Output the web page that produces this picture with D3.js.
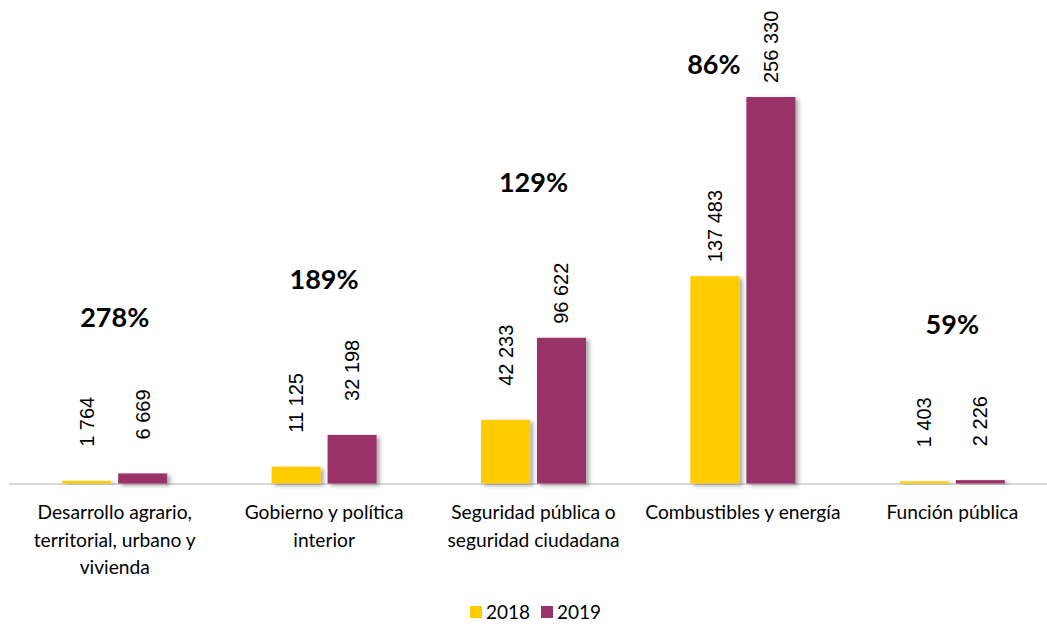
<!DOCTYPE html>
<html><head><meta charset="utf-8">
<script src="https://cdn.jsdelivr.net/npm/d3@7"></script>
<style>body{margin:0;background:#fff}svg{display:block}</style>
</head><body><div id="chart"></div>
<script>
const categories = ["Desarrollo agrario,\nterritorial, urbano y\nvivienda","Gobierno y política\ninterior","Seguridad pública o\nseguridad ciudadana","Combustibles y energía","Función pública"];
const years = ["2018","2019"];
const values2018 = [1764, 11125, 42233, 137483, 1403];
const values2019 = [6669, 32198, 96622, 256330, 2226];
const pctLabels = ["278%","189%","129%","86%","59%"];
const colors = ["#FFCC00","#993366"];

const W = 1047, H = 624;
const svg = d3.select("#chart").append("svg").attr("width", W).attr("height", H);
const defs = svg.append("defs");
const f = defs.append("filter").attr("id","sh").attr("x","-20%").attr("y","-20%").attr("width","160%").attr("height","160%");
f.append("feDropShadow").attr("dx",3).attr("dy",2).attr("stdDeviation",2).attr("flood-color","#000").attr("flood-opacity",0.35);

const baseY = 483.5;
const x = d3.scaleBand().domain(categories).range([10, 1057]).padding(0);
const y = d3.scaleLinear().domain([0, 256330]).range([baseY, 97]);
const sub = d3.scaleBand().domain(years).range([-52.5, 52.5]).paddingInner(0.124).paddingOuter(0);

svg.append("line").attr("x1", 9).attr("x2", 1047).attr("y1", baseY+0.5).attr("y2", baseY+0.5)
  .attr("stroke","#d9d9d9").attr("stroke-width",2);

const data = categories.map((c,i)=>({c, vals:[values2018[i], values2019[i]], pct:pctLabels[i]}));
const g = svg.selectAll("g.grp").data(data).enter().append("g")
  .attr("transform", d=>`translate(${x(d.c)+x.bandwidth()/2},0)`);

g.selectAll("rect").data(d=>d.vals.map((v,j)=>({v,j}))).enter().append("rect")
  .attr("x", d=>sub(years[d.j])).attr("width", sub.bandwidth())
  .attr("y", d=>y(d.v)).attr("height", d=>Math.max(1.5, baseY - y(d.v)))
  .attr("fill", d=>colors[d.j]).attr("filter","url(#sh)");

const fmt = v => d3.format(",")(v).replace(/,/g," ");
g.selectAll("text.val").data(d=>d.vals.map((v,j)=>({v,j}))).enter().append("text")
  .attr("class","val")
  .attr("transform", d=>{
    const gap = d.v > 90000 ? 14 : 34;
    const cx = sub(years[d.j]) + sub.bandwidth()/2 + 7;
    return `translate(${cx},${y(d.v)-gap}) rotate(-90)`;
  })
  .attr("font-family","Liberation Sans, Arial, sans-serif").attr("font-size",20).attr("fill","#000")
  .text(d=>fmt(d.v));

g.append("text").attr("class","pct")
  .attr("x", d=>{ const yy = y(d.vals[1]) - 155; return yy < 60 ? sub(years[0]) + sub.bandwidth()/2 - 1 : 0; })
  .attr("y", d=>{ const yy = y(d.vals[1]) - 155; return (yy < 60 ? 65 : yy) + 9; })
  .attr("text-anchor","middle").attr("font-family","Lato, sans-serif").attr("font-weight","bold")
  .attr("font-size",27).attr("fill","#000").text(d=>d.pct);

g.append("text").attr("class","cat").attr("text-anchor","middle")
  .attr("font-family","Lato, sans-serif").attr("font-size",19.2).attr("fill","#000")
  .selectAll("tspan").data(d=>d.c.split("\n")).enter().append("tspan")
  .attr("x",0).attr("y",(d,i)=>519 + i*27.5).text(d=>d);

const leg = svg.append("g").attr("transform","translate(470,606)");
years.forEach((yr,i)=>{
  const lg = leg.append("g").attr("transform",`translate(${i*71},0)`);
  lg.append("rect").attr("width",12).attr("height",12).attr("fill",colors[i]);
  lg.append("text").attr("x",16).attr("y",12.5).attr("font-family","Lato, sans-serif").attr("font-size",19).text(yr);
});
</script></body></html>
